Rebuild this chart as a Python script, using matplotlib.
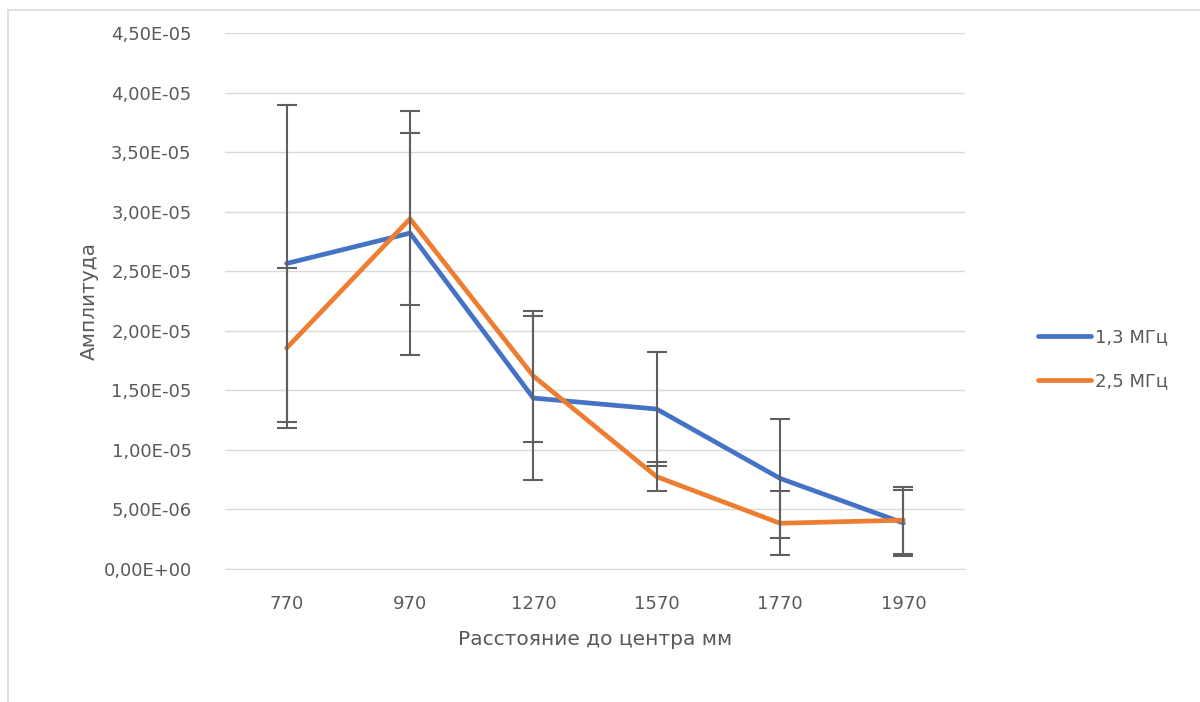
import matplotlib
matplotlib.use("Agg")
import matplotlib.pyplot as plt
from matplotlib.ticker import FuncFormatter, MultipleLocator
from matplotlib.lines import Line2D
import numpy as np

categories = ["770", "970", "1270", "1570", "1770", "1970"]
series_names = ["1,3 МГц", "2,5 МГц"]
s13 = [2.565e-5, 2.82e-5, 1.435e-5, 1.343e-5, 0.761e-5, 0.386e-5]
s25 = [1.855e-5, 2.94e-5, 1.62e-5, 0.775e-5, 0.384e-5, 0.41e-5]
err13 = [1.33e-5, 1.025e-5, 0.69e-5, 0.48e-5, 0.50e-5, 0.28e-5]
err25 = [0.67e-5, 0.72e-5, 0.55e-5, 0.12e-5, 0.27e-5, 0.28e-5]

colors = ["#4472C4", "#ED7D31"]
txt = "#595959"

plt.rcParams['font.family'] = ['DejaVu Sans']

fig = plt.figure(figsize=(12, 7.02), dpi=100)
ax = fig.add_axes([225/1200, 1-569/702, 740/1200, 536/702])

x = np.arange(len(categories))
for vals, c, name in [(s13, colors[0], series_names[0]), (s25, colors[1], series_names[1])]:
    ax.plot(x, vals, color=c, lw=3.4, solid_capstyle='round', solid_joinstyle='round', zorder=3, label=name)
for vals, errs in [(s13, err13), (s25, err25)]:
    ax.errorbar(x, vals, yerr=errs, fmt='none', ecolor='#5f5f5f', elinewidth=1.5,
                capsize=7, capthick=1.5, zorder=4)

ax.set_xlim(-0.5, len(categories) - 0.5)
ax.set_ylim(0, 4.5e-5)
ax.yaxis.set_major_locator(MultipleLocator(5e-6))

def fmt(v, pos):
    s = "%.2E" % v
    return s.replace(".", ",")
ax.yaxis.set_major_formatter(FuncFormatter(fmt))
ax.set_xticks(x)
ax.set_xticklabels(categories)
ax.grid(axis='y', color='#d9d9d9', lw=1)
ax.set_axisbelow(True)
for sp in ["top", "right", "left"]:
    ax.spines[sp].set_visible(False)
ax.spines["bottom"].set_color('#d9d9d9')
ax.tick_params(axis='both', length=0, labelsize=13, colors=txt)
ax.tick_params(axis='y', pad=24)
ax.tick_params(axis='x', pad=19)

ax.set_xlabel("Расстояние до центра мм", fontsize=14.5, color=txt, labelpad=12)
ax.set_ylabel("Амплитуда", fontsize=14.5, color=txt, labelpad=3)

handles = [Line2D([0], [0], color=colors[0], lw=3.4, solid_capstyle='round'),
           Line2D([0], [0], color=colors[1], lw=3.4, solid_capstyle='round')]
fig.legend(handles, series_names, loc='center left', bbox_to_anchor=(1022/1200, 1-359/702),
           frameon=False, fontsize=13, labelcolor=txt, handlelength=2.9, handletextpad=0.25,
           labelspacing=1.45)

# chart border
fig.add_artist(Line2D([8/1200, 8/1200], [0, 1-10/702], transform=fig.transFigure, color='#d9d9d9', lw=1.2))
fig.add_artist(Line2D([8/1200, 1], [1-10/702, 1-10/702], transform=fig.transFigure, color='#d9d9d9', lw=1.2))

fig.savefig("out.png", dpi=100)
